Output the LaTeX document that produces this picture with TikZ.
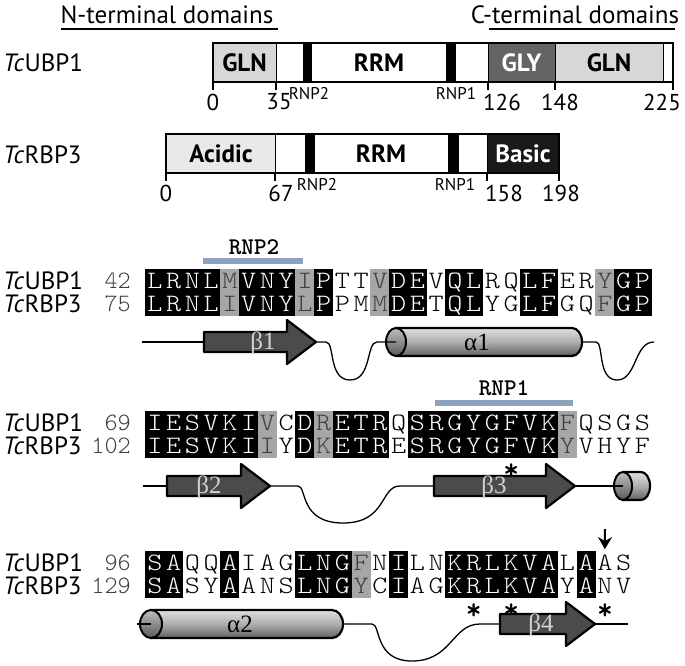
\documentclass[tikz,border=0pt]{standalone}
\usepackage{fontspec}
\usepackage{graphicx}
\setmainfont{PT Sans}
\newfontfamily\greekfont{Liberation Serif}
\usetikzlibrary{arrows.meta,calc}

\definecolor{simgray}{RGB}{166,166,166}
\definecolor{rnpblue}{RGB}{140,162,189}
\definecolor{strandgray}{RGB}{75,75,75}
\definecolor{glngray}{RGB}{215,215,215}
\definecolor{acidgray}{RGB}{233,233,233}
\definecolor{glygray}{RGB}{100,100,100}
\definecolor{basicgray}{RGB}{25,25,25}

\newcommand\seqfont{\fontfamily{lmtt}\fontseries{l}\fontsize{25}{25}\selectfont}
\newcommand\rnpfont{\fontfamily{lmtt}\fontseries{b}\fontsize{24}{24}\selectfont}
\newcommand\bigfont{\fontsize{25}{25}\selectfont}
\newcommand\tickfont{\fontsize{23}{23}\selectfont}

% one aligned row: name, y, residue/shade list
\newcommand\seqrow[3]{%
  \foreach \aa/\sh [count=\i] in {#3}
    \node[\sh] (#1-\i) at ({145.5+(\i-0.5)*18.75},#2) {\scalebox{1.15}[1]{\aa}};
}
% beta strand: start x, tip x, y
\newcommand\strandarrow[3]{%
  \draw[strand] (#1,#3-10) -- (#2-29,#3-10) -- (#2-29,#3-22) -- (#2,#3)
    -- (#2-29,#3+22) -- (#2-29,#3+10) -- (#1,#3+10) -- cycle;
}
% helix: left cap centre x, right end x, y, cap radius
\newcommand\helixtube[4]{%
  \draw[helix] (#1,#3-14) -- (#2-#4,#3-14)
    arc[start angle=-90, end angle=90, x radius=#4, y radius=14] -- (#1,#3+14) -- cycle;
  \draw[helixcap] (#1,#3) ellipse[x radius=#4, y radius=14];
}

\tikzset{
  cell/.style={minimum width=19pt, minimum height=23.4pt, inner sep=0pt,
    font=\seqfont, text height=15pt, text depth=0pt},
  idt/.style={cell, fill=black, text=white},
  sim/.style={cell, fill=simgray, text=black!75},
  non/.style={cell},
  rowname/.style={anchor=west, font=\bigfont, inner sep=0pt},
  rownum/.style={anchor=east, font=\seqfont, text=black!75, inner sep=0pt},
  rnplbl/.style={font=\rnpfont, inner sep=0pt},
  rnpbar/.style={rnpblue, line width=5.5pt},
  strand/.style={fill=strandgray, draw=black, line width=2.2pt, line join=round},
  strandlbl/.style={text=black!18, font=\greekfont\fontsize{25}{25}\selectfont, inner sep=0pt},
  helix/.style={draw=black, line width=2.2pt, top color=black!12, bottom color=black!62,
    middle color=black!32},
  helixcap/.style={draw=black, line width=2pt, top color=black!25, bottom color=black!65},
  helixlbl/.style={font=\greekfont\fontsize{25}{25}\selectfont, inner sep=0pt},
  loopline/.style={line width=1.3pt},
  domlbl/.style={font=\bfseries\bigfont, inner sep=0pt},
  tick/.style={line width=1.3pt},
  ticklbl/.style={font=\tickfont, inner sep=0pt},
  rnpsmall/.style={font=\fontsize{17}{17}\selectfont, inner sep=0pt},
  star/.style={font=\fontfamily{lmtt}\fontseries{b}\fontsize{30}{30}\selectfont,
    anchor=base, inner sep=0pt, text height=8pt},
}

\begin{document}
\begin{tikzpicture}[x=1pt, y=-1pt]
\useasboundingbox (0,0) rectangle (685,666);

% domain titles
\node[font=\fontsize{25}{25}\selectfont] (nterm) at (167,15) {N-terminal domains};
\node[font=\fontsize{25}{25}\selectfont] (cterm) at (575,15) {C-terminal domains};
\draw[line width=2pt] (61,29) -- (278,29);
\draw[line width=2pt] (489,29) -- (675,29);

% TcUBP1 domain map
\node[rowname] (mapu) at (3,63) {\textit{Tc}UBP1};
\foreach \a/\b/\c in {213/276/glngray, 276/303/white, 303/311/black, 311/446/white,
    446/455/black, 455/488/white, 488/555/glygray, 555/663/glngray, 663/673/white}
  \filldraw[fill=\c, line width=1pt] (\a,43) rectangle (\b,82);
\draw[line width=2.5pt] (213,43) rectangle (673,82);
\node[domlbl] (ugln1) at (244.5,62.5) {GLN};
\node[domlbl] (urrm) at (379,62.5) {RRM};
\node[domlbl, text=white] (ugly) at (521.5,62.5) {GLY};
\node[domlbl] (ugln2) at (609,62.5) {GLN};
\foreach \x/\lx/\t in {213/213/0, 276/279/35, 488/502/126, 555/560/148, 673/662/225}{
  \draw[tick] (\x,82) -- (\x,90);
  \node[ticklbl] (ut\t) at (\lx,102) {\t};
}
\node[rnpsmall] (urnp2) at (309,94) {RNP2};
\node[rnpsmall] (urnp1) at (456,94) {RNP1};

% TcRBP3 domain map
\node[rowname] (mapr) at (3,155) {\textit{Tc}RBP3};
\foreach \a/\b/\c in {166/275/acidgray, 275/305/white, 305/314/black, 314/448/white,
    448/458/black, 458/487/white, 487/559/basicgray}
  \filldraw[fill=\c, line width=1pt] (\a,134) rectangle (\b,173);
\draw[line width=2.5pt] (166,134) rectangle (559,173);
\node[domlbl] (racid) at (221,153.5) {Acidic};
\node[domlbl] (rrrm) at (381,153.5) {RRM};
\node[domlbl, text=white] (rbasic) at (523,153.5) {Basic};
\foreach \x/\lx/\t in {166/166/0, 275/281/67, 487/504/158, 559/561/198}{
  \draw[tick] (\x,173) -- (\x,181);
  \node[ticklbl] (rt\t) at (\lx,193) {\t};
}
\node[rnpsmall] (rrnp2) at (317,185) {RNP2};
\node[rnpsmall] (rrnp1) at (455,185) {RNP1};

% alignment block 1
\node[rnplbl] (rnp2lbl) at (254,247) {RNP2};
\draw[rnpbar] (203,261) -- (303,261);
\node[rowname] (nu1) at (3,281) {\textit{Tc}UBP1};
\node[rownum] (ku1) at (131,281) {42};
\node[rowname] (nr1) at (3,304) {\textit{Tc}RBP3};
\node[rownum] (kr1) at (131,304) {75};
\seqrow{u1}{281}{L/idt,R/idt,N/idt,L/idt,M/sim,V/idt,N/idt,Y/idt,I/sim,P/idt,T/non,T/non,V/sim,D/idt,E/idt,V/non,Q/idt,L/idt,R/non,Q/non,L/idt,F/idt,E/non,R/non,Y/sim,G/idt,P/idt}
\seqrow{r1}{304}{L/idt,R/idt,N/idt,L/idt,I/sim,V/idt,N/idt,Y/idt,L/sim,P/idt,P/non,M/non,M/sim,D/idt,E/idt,T/non,Q/idt,L/idt,Y/non,G/non,L/idt,F/idt,G/non,Q/non,F/sim,G/idt,P/idt}

\draw[loopline] (142,342) -- (204,342);
\strandarrow{204}{316}{342}
\node[strandlbl] (b1) at (263,343) {β1};
\helixtube{396}{582}{342}{10}
\node[helixlbl] (a1) at (477,342) {α1};
\draw[loopline] (316,342) -- (326,342) .. controls (335,342) and (328,380) .. (350,380)
  .. controls (372,380) and (366,342) .. (377,342) -- (396,342);
\draw[loopline] (582,342) -- (596,342) .. controls (604,342) and (597,380) .. (617,380)
  .. controls (637,380) and (634,342) .. (654,342);

% alignment block 2
\node[rnplbl] (rnp1lbl) at (504,388) {RNP1};
\draw[rnpbar] (435,403) -- (573,403);
\node[rowname] (nu2) at (3,423) {\textit{Tc}UBP1};
\node[rownum] (ku2) at (131,423) {69};
\node[rowname] (nr2) at (3,446) {\textit{Tc}RBP3};
\node[rownum] (kr2) at (131,446) {102};
\seqrow{u2}{423}{I/idt,E/idt,S/idt,V/idt,K/idt,I/idt,V/sim,C/non,D/idt,R/sim,E/idt,T/idt,R/idt,Q/non,S/idt,R/idt,G/idt,Y/idt,G/idt,F/idt,V/idt,K/idt,F/sim,Q/non,S/non,G/non,S/non}
\seqrow{r2}{446}{I/idt,E/idt,S/idt,V/idt,K/idt,I/idt,I/sim,Y/non,D/idt,K/sim,E/idt,T/idt,R/idt,E/non,S/idt,R/idt,G/idt,Y/idt,G/idt,F/idt,V/idt,K/idt,Y/sim,V/non,H/non,Y/non,F/non}
\node[star] (s20) at ($(r2-20.south)+(0,22)$) {*};

\draw[loopline] (143,486) -- (167,486);
\strandarrow{167}{270}{486}
\node[strandlbl] (b2) at (209,487) {β2};
\draw[loopline] (270,486) -- (298,486) .. controls (307,486) and (299,523) .. (343,523)
  .. controls (387,523) and (380,486) .. (400,486) -- (434,486);
\strandarrow{434}{575}{486}
\node[strandlbl] (b3) at (494,487) {β3};
\helixtube{623}{650}{486}{9}
\draw[loopline] (575,486) -- (623,486);

% alignment block 3
\coordinate (cleave) at (605,529);
\node[rowname] (nu3) at (3,563) {\textit{Tc}UBP1};
\node[rownum] (ku3) at (131,563) {96};
\node[rowname] (nr3) at (3,586) {\textit{Tc}RBP3};
\node[rownum] (kr3) at (131,586) {129};
\seqrow{u3}{563}{S/idt,A/idt,Q/non,Q/non,A/idt,I/non,A/non,G/non,L/idt,N/idt,G/idt,F/sim,N/non,I/idt,L/non,N/non,K/idt,R/idt,L/idt,K/idt,V/idt,A/idt,L/non,A/idt,A/non,S/non}
\seqrow{r3}{586}{S/idt,A/idt,S/non,Y/non,A/idt,A/non,N/non,S/non,L/idt,N/idt,G/idt,Y/sim,C/non,I/idt,A/non,G/non,K/idt,R/idt,L/idt,K/idt,V/idt,A/idt,Y/non,A/idt,N/non,V/non}
\draw[-{Stealth[length=12pt,width=14pt]}, line width=2pt] (cleave) -- ([yshift=2pt]u3-25.north);
\foreach \k in {18,20,25}
  \node[star] (t\k) at ($(r3-\k.south)+(0,22)$) {*};

\helixtube{151}{343}{624}{11}
\node[helixlbl] (a2) at (240,624) {α2};
\draw[loopline] (137,624) -- (151,624);
\draw[loopline] (343,624) -- (372,624) .. controls (381,624) and (374,661) .. (412,661)
  .. controls (452,661) and (452,624) .. (480,624) -- (500,624);
\strandarrow{500}{595}{624}
\node[strandlbl] (b4) at (541,625) {β4};
\draw[loopline] (595,624) -- (628,624);

\end{tikzpicture}
\end{document}
